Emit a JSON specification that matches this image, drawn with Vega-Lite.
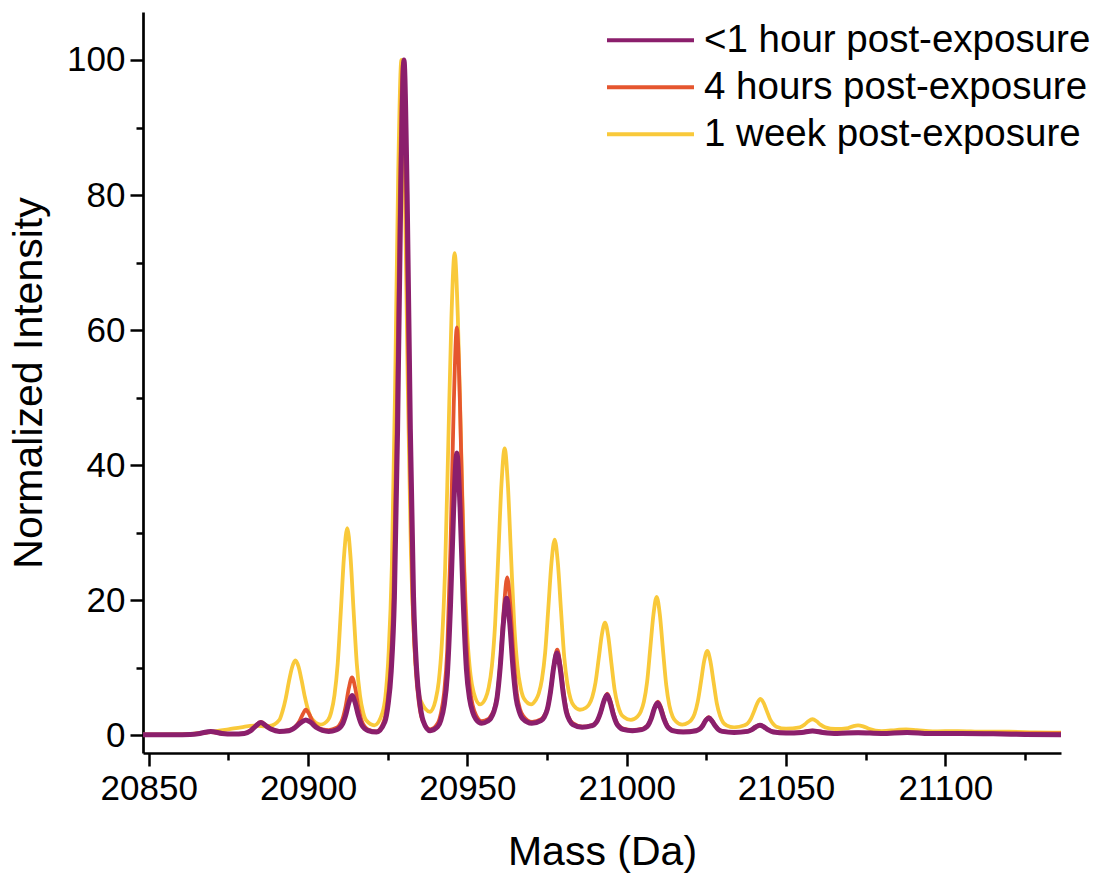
{
"$schema": "https://vega.github.io/schema/vega-lite/v6.json",
"width": 918,
"height": 741,
"autosize": {"type": "none"},
"padding": {"left": 143, "top": 12, "right": 33, "bottom": 124},
"background": "white",
"config": {
"view": {"stroke": null},
"font": "Liberation Sans",
"axis": {"domainColor": "black", "domainWidth": 2.7, "tickColor": "black", "tickWidth": 2.5, "tickSize": 13, "labelColor": "black", "labelFontSize": 35, "labelFont": "Liberation Sans", "titleFont": "Liberation Sans", "titleFontSize": 41, "titleFontWeight": "normal", "titleColor": "black", "grid": false, "labelPadding": 5},
"legend": {"symbolType": "stroke", "symbolSize": 7569, "symbolStrokeWidth": 4, "labelFontSize": 38.5, "labelFont": "Liberation Sans", "labelColor": "black", "labelOffset": 8, "rowPadding": 0, "clipHeight": 46.5, "labelLimit": 0, "padding": 0}
},
"datasets": {
"week": [
{"mass":20848.2,"intensity":0.1},{"mass":20858,"intensity":0.15},{"mass":20862,"intensity":0.2},{"mass":20866,"intensity":0.35},{"mass":20870,"intensity":0.55},{"mass":20875,"intensity":0.9},{"mass":20879,"intensity":1.2},{"mass":20883,"intensity":1.45},{"mass":20886,"intensity":1.35},{"mass":20888,"intensity":1.4},
{"mass":20891,"intensity":2.3},{"mass":20892,"intensity":3.6},{"mass":20893,"intensity":5.5},{"mass":20894,"intensity":8.0},{"mass":20895,"intensity":10.1},{"mass":20896,"intensity":11.1},{"mass":20897,"intensity":10.2},{"mass":20898,"intensity":8.1},{"mass":20899,"intensity":5.7},{"mass":20900,"intensity":3.8},{"mass":20901,"intensity":2.6},{"mass":20904,"intensity":1.6},
{"mass":20906.3,"intensity":2.3},{"mass":20907.3,"intensity":3.5},{"mass":20908.3,"intensity":6.0},{"mass":20909.3,"intensity":10.6},{"mass":20910.3,"intensity":18.5},{"mass":20911.3,"intensity":26.6},{"mass":20912.3,"intensity":30.7},{"mass":20913.3,"intensity":26.6},{"mass":20914.3,"intensity":18.4},{"mass":20915.3,"intensity":10.6},{"mass":20916.3,"intensity":5.9},{"mass":20917.3,"intensity":3.4},{"mass":20918.3,"intensity":2.2},{"mass":20920.8,"intensity":1.5},
{"mass":20923.3,"intensity":3.3},{"mass":20924.3,"intensity":5.9},{"mass":20925.3,"intensity":12.3},{"mass":20926.3,"intensity":25.1},{"mass":20927.3,"intensity":50.8},{"mass":20928.3,"intensity":83.3},{"mass":20929.3,"intensity":100},{"mass":20930.3,"intensity":83.6},{"mass":20931.3,"intensity":51.8},{"mass":20932.3,"intensity":26.7},{"mass":20933.3,"intensity":14.1},{"mass":20934.3,"intensity":7.8},{"mass":20935.3,"intensity":5.2},{"mass":20938.3,"intensity":3.5},
{"mass":20940,"intensity":5.2},{"mass":20941,"intensity":7.9},{"mass":20942,"intensity":13.7},{"mass":20943,"intensity":24.5},{"mass":20944,"intensity":42.9},{"mass":20945,"intensity":61.9},{"mass":20946,"intensity":71.4},{"mass":20947,"intensity":62.0},{"mass":20948,"intensity":43.3},{"mass":20949,"intensity":25.3},{"mass":20950,"intensity":14.6},{"mass":20951,"intensity":8.9},{"mass":20952,"intensity":6.3},{"mass":20954,"intensity":4.6},
{"mass":20955.7,"intensity":5.5},{"mass":20956.7,"intensity":7.1},{"mass":20957.7,"intensity":10.3},{"mass":20958.7,"intensity":16.4},{"mass":20959.7,"intensity":26.6},{"mass":20960.7,"intensity":37.2},{"mass":20961.7,"intensity":42.5},{"mass":20962.7,"intensity":37.2},{"mass":20963.7,"intensity":26.6},{"mass":20964.7,"intensity":16.4},{"mass":20965.7,"intensity":10.3},{"mass":20966.7,"intensity":7.1},{"mass":20967.7,"intensity":5.5},{"mass":20970,"intensity":4.6},
{"mass":20971.4,"intensity":5.2},{"mass":20972.4,"intensity":6.2},{"mass":20973.4,"intensity":8.3},{"mass":20974.4,"intensity":12.2},{"mass":20975.4,"intensity":18.8},{"mass":20976.4,"intensity":25.6},{"mass":20977.4,"intensity":29.0},{"mass":20978.4,"intensity":25.5},{"mass":20979.4,"intensity":18.4},{"mass":20980.4,"intensity":11.6},{"mass":20981.4,"intensity":7.6},{"mass":20982.4,"intensity":5.4},{"mass":20983.4,"intensity":4.4},{"mass":20985.3,"intensity":3.8},
{"mass":20987.2,"intensity":4.1},{"mass":20988.2,"intensity":4.6},{"mass":20989.2,"intensity":5.7},{"mass":20990.2,"intensity":7.8},{"mass":20991.2,"intensity":11.3},{"mass":20992.2,"intensity":14.9},{"mass":20993.2,"intensity":16.7},{"mass":20994.2,"intensity":14.7},{"mass":20995.2,"intensity":10.7},{"mass":20996.2,"intensity":6.8},{"mass":20997.2,"intensity":4.5},{"mass":20998.2,"intensity":3.2},{"mass":20999.2,"intensity":2.7},{"mass":21001.3,"intensity":2.3},
{"mass":21003.4,"intensity":2.8},{"mass":21004.4,"intensity":3.5},{"mass":21005.4,"intensity":5.0},{"mass":21006.4,"intensity":7.9},{"mass":21007.4,"intensity":12.9},{"mass":21008.4,"intensity":17.9},{"mass":21009.4,"intensity":20.5},{"mass":21010.4,"intensity":17.9},{"mass":21011.4,"intensity":12.6},{"mass":21012.4,"intensity":7.5},{"mass":21013.4,"intensity":4.4},{"mass":21014.4,"intensity":2.8},{"mass":21015.4,"intensity":2.1},{"mass":21017.4,"intensity":1.6},
{"mass":21019.3,"intensity":1.9},{"mass":21020.3,"intensity":2.3},{"mass":21021.3,"intensity":3.2},{"mass":21022.3,"intensity":5.0},{"mass":21023.3,"intensity":7.9},{"mass":21024.3,"intensity":11.0},{"mass":21025.3,"intensity":12.5},{"mass":21026.3,"intensity":10.9},{"mass":21027.3,"intensity":7.8},{"mass":21028.3,"intensity":4.7},{"mass":21029.3,"intensity":2.9},{"mass":21030.3,"intensity":1.9},{"mass":21031.3,"intensity":1.5},{"mass":21033.7,"intensity":1.2},
{"mass":21037,"intensity":1.5},{"mass":21038,"intensity":1.8},{"mass":21039,"intensity":2.5},{"mass":21040,"intensity":3.6},{"mass":21041,"intensity":4.8},{"mass":21042,"intensity":5.4},{"mass":21043,"intensity":4.8},{"mass":21044,"intensity":3.6},{"mass":21045,"intensity":2.4},{"mass":21046,"intensity":1.7},{"mass":21047,"intensity":1.3},{"mass":21050,"intensity":1.0},
{"mass":21054.3,"intensity":1.2},{"mass":21055.8,"intensity":1.6},{"mass":21057,"intensity":2.1},{"mass":21058.3,"intensity":2.4},{"mass":21059.6,"intensity":2.1},{"mass":21060.8,"intensity":1.6},{"mass":21062.3,"intensity":1.2},{"mass":21065.5,"intensity":0.95},
{"mass":21069.5,"intensity":1.1},{"mass":21071,"intensity":1.35},{"mass":21072.6,"intensity":1.5},{"mass":21074.2,"intensity":1.35},{"mass":21076,"intensity":1.0},{"mass":21080,"intensity":0.65},{"mass":21084.5,"intensity":0.8},{"mass":21087.7,"intensity":0.9},{"mass":21091,"intensity":0.8},{"mass":21096,"intensity":0.6},{"mass":21104,"intensity":0.65},{"mass":21112,"intensity":0.55},{"mass":21120,"intensity":0.55},{"mass":21128,"intensity":0.45},{"mass":21136.3,"intensity":0.4}
],
"h4": [
{"mass":20848.2,"intensity":0.1},{"mass":20858,"intensity":0.1},{"mass":20863,"intensity":0.15},{"mass":20866,"intensity":0.28},{"mass":20869.5,"intensity":0.5},{"mass":20873,"intensity":0.28},{"mass":20876.5,"intensity":0.2},
{"mass":20880,"intensity":0.3},{"mass":20882,"intensity":0.75},{"mass":20883.5,"intensity":1.45},{"mass":20885.2,"intensity":2.0},{"mass":20887,"intensity":1.45},{"mass":20888.5,"intensity":0.95},{"mass":20891,"intensity":0.65},
{"mass":20894,"intensity":0.8},{"mass":20895.8,"intensity":1.2},{"mass":20897.3,"intensity":2.1},{"mass":20898.3,"intensity":3.1},{"mass":20899.3,"intensity":3.8},{"mass":20900.3,"intensity":3.2},{"mass":20901.3,"intensity":2.2},{"mass":20902.8,"intensity":1.3},{"mass":20904.5,"intensity":0.9},{"mass":20906.5,"intensity":0.8},
{"mass":20908.8,"intensity":1.1},{"mass":20909.8,"intensity":1.5},{"mass":20910.8,"intensity":2.4},{"mass":20911.8,"intensity":4.3},{"mass":20912.8,"intensity":7.0},{"mass":20913.8,"intensity":8.6},{"mass":20914.8,"intensity":7.0},{"mass":20915.8,"intensity":4.2},{"mass":20916.8,"intensity":2.2},{"mass":20917.8,"intensity":1.3},{"mass":20918.8,"intensity":0.9},{"mass":20921.5,"intensity":0.6},
{"mass":20923.8,"intensity":2.1},{"mass":20924.8,"intensity":4.6},{"mass":20925.8,"intensity":9.5},{"mass":20926.8,"intensity":20.4},{"mass":20927.8,"intensity":45.1},{"mass":20928.8,"intensity":79.7},{"mass":20929.8,"intensity":99.5},{"mass":20930.8,"intensity":79.8},{"mass":20931.8,"intensity":45.3},{"mass":20932.8,"intensity":20.6},{"mass":20933.8,"intensity":9.8},{"mass":20934.8,"intensity":4.8},{"mass":20935.8,"intensity":2.4},{"mass":20938.3,"intensity":0.9},
{"mass":20940.7,"intensity":1.8},{"mass":20941.7,"intensity":3.3},{"mass":20942.7,"intensity":6.3},{"mass":20943.7,"intensity":12.8},{"mass":20944.7,"intensity":27.7},{"mass":20945.7,"intensity":48.5},{"mass":20946.7,"intensity":60.4},{"mass":20947.7,"intensity":48.7},{"mass":20948.7,"intensity":28.3},{"mass":20949.7,"intensity":13.8},{"mass":20950.7,"intensity":7.3},{"mass":20951.7,"intensity":4.4},{"mass":20952.7,"intensity":3.0},{"mass":20954.5,"intensity":2.1},
{"mass":20956.5,"intensity":2.4},{"mass":20957.5,"intensity":3.0},{"mass":20958.5,"intensity":4.0},{"mass":20959.5,"intensity":6.4},{"mass":20960.5,"intensity":11.7},{"mass":20961.5,"intensity":19.1},{"mass":20962.5,"intensity":23.4},{"mass":20963.5,"intensity":19.1},{"mass":20964.5,"intensity":11.6},{"mass":20965.5,"intensity":6.3},{"mass":20966.5,"intensity":3.9},{"mass":20967.5,"intensity":2.9},{"mass":20970.3,"intensity":2.0},
{"mass":20973.2,"intensity":2.4},{"mass":20974.2,"intensity":3.0},{"mass":20975.2,"intensity":4.1},{"mass":20976.2,"intensity":6.8},{"mass":20977.2,"intensity":10.6},{"mass":20978.2,"intensity":12.7},{"mass":20979.2,"intensity":10.4},{"mass":20980.2,"intensity":6.4},{"mass":20981.2,"intensity":3.6},{"mass":20982.2,"intensity":2.3},{"mass":20983.2,"intensity":1.8},{"mass":20986.1,"intensity":1.3},
{"mass":20988.9,"intensity":1.5},{"mass":20989.9,"intensity":1.7},{"mass":20990.9,"intensity":2.3},{"mass":20991.9,"intensity":3.5},{"mass":20992.9,"intensity":5.2},{"mass":20993.9,"intensity":6.2},{"mass":20994.9,"intensity":5.1},{"mass":20995.9,"intensity":3.2},{"mass":20996.9,"intensity":1.9},{"mass":20997.9,"intensity":1.3},{"mass":20998.9,"intensity":1.0},{"mass":21001.8,"intensity":0.8},
{"mass":21004.8,"intensity":0.97},{"mass":21005.8,"intensity":1.18},{"mass":21006.8,"intensity":1.64},{"mass":21007.8,"intensity":2.7},{"mass":21008.8,"intensity":4.2},{"mass":21009.8,"intensity":5.0},{"mass":21010.8,"intensity":4.1},{"mass":21011.8,"intensity":2.55},{"mass":21012.8,"intensity":1.44},{"mass":21013.8,"intensity":0.95},{"mass":21014.8,"intensity":0.73},{"mass":21017.7,"intensity":0.55},
{"mass":21021.8,"intensity":0.75},{"mass":21022.8,"intensity":0.95},{"mass":21023.8,"intensity":1.5},{"mass":21024.8,"intensity":2.3},{"mass":21025.8,"intensity":2.7},{"mass":21026.8,"intensity":2.2},{"mass":21027.8,"intensity":1.5},{"mass":21028.8,"intensity":0.9},{"mass":21030,"intensity":0.65},{"mass":21033.7,"intensity":0.5},
{"mass":21038,"intensity":0.65},{"mass":21039.3,"intensity":0.9},{"mass":21040.5,"intensity":1.3},{"mass":21041.8,"intensity":1.55},{"mass":21043.1,"intensity":1.3},{"mass":21044.3,"intensity":0.9},{"mass":21046,"intensity":0.55},{"mass":21050,"intensity":0.4},
{"mass":21055,"intensity":0.5},{"mass":21058.3,"intensity":0.7},{"mass":21061.5,"intensity":0.5},{"mass":21066,"intensity":0.35},{"mass":21072.6,"intensity":0.45},{"mass":21080,"intensity":0.35},{"mass":21088,"intensity":0.5},{"mass":21095,"intensity":0.35},{"mass":21105,"intensity":0.35},{"mass":21115,"intensity":0.3},{"mass":21125,"intensity":0.3},{"mass":21136.3,"intensity":0.3}
],
"h1": [
{"mass":20848.2,"intensity":0.1},{"mass":20858,"intensity":0.1},{"mass":20863,"intensity":0.15},{"mass":20866,"intensity":0.3},{"mass":20869.5,"intensity":0.6},{"mass":20873,"intensity":0.3},{"mass":20876.5,"intensity":0.2},
{"mass":20880,"intensity":0.3},{"mass":20882,"intensity":0.7},{"mass":20883.5,"intensity":1.35},{"mass":20885.2,"intensity":1.9},{"mass":20887,"intensity":1.35},{"mass":20888.5,"intensity":0.9},{"mass":20891,"intensity":0.6},
{"mass":20894,"intensity":0.7},{"mass":20896,"intensity":1.2},{"mass":20897.7,"intensity":1.9},{"mass":20899.3,"intensity":2.3},{"mass":20900.9,"intensity":1.9},{"mass":20902.5,"intensity":1.2},{"mass":20904.5,"intensity":0.75},{"mass":20906.5,"intensity":0.6},
{"mass":20908.8,"intensity":0.81},{"mass":20909.8,"intensity":1.08},{"mass":20910.8,"intensity":1.66},{"mass":20911.8,"intensity":2.99},{"mass":20912.8,"intensity":4.84},{"mass":20913.8,"intensity":5.9},{"mass":20914.8,"intensity":4.82},{"mass":20915.8,"intensity":2.93},{"mass":20916.8,"intensity":1.58},{"mass":20917.8,"intensity":0.99},{"mass":20918.8,"intensity":0.72},{"mass":20921.5,"intensity":0.5},
{"mass":20924.1,"intensity":2.0},{"mass":20925.1,"intensity":4.5},{"mass":20926.1,"intensity":9.5},{"mass":20927.1,"intensity":20.4},{"mass":20928.1,"intensity":45.3},{"mass":20929.1,"intensity":80.1},{"mass":20930.1,"intensity":100},{"mass":20931.1,"intensity":80.1},{"mass":20932.1,"intensity":45.4},{"mass":20933.1,"intensity":20.6},{"mass":20934.1,"intensity":9.6},{"mass":20935.1,"intensity":4.7},{"mass":20936.1,"intensity":2.2},{"mass":20938.3,"intensity":0.7},
{"mass":20940.7,"intensity":1.3},{"mass":20941.7,"intensity":2.3},{"mass":20942.7,"intensity":4.4},{"mass":20943.7,"intensity":8.9},{"mass":20944.7,"intensity":19.2},{"mass":20945.7,"intensity":33.6},{"mass":20946.7,"intensity":41.8},{"mass":20947.7,"intensity":33.8},{"mass":20948.7,"intensity":19.8},{"mass":20949.7,"intensity":9.8},{"mass":20950.7,"intensity":5.4},{"mass":20951.7,"intensity":3.4},{"mass":20952.7,"intensity":2.4},{"mass":20954.5,"intensity":1.8},
{"mass":20956.3,"intensity":2.1},{"mass":20957.3,"intensity":2.5},{"mass":20958.3,"intensity":3.5},{"mass":20959.3,"intensity":5.5},{"mass":20960.3,"intensity":10.1},{"mass":20961.3,"intensity":16.6},{"mass":20962.3,"intensity":20.3},{"mass":20963.3,"intensity":16.6},{"mass":20964.3,"intensity":10.1},{"mass":20965.3,"intensity":5.5},{"mass":20966.3,"intensity":3.5},{"mass":20967.3,"intensity":2.5},{"mass":20970.2,"intensity":1.8},
{"mass":20973.1,"intensity":2.2},{"mass":20974.1,"intensity":2.7},{"mass":20975.1,"intensity":3.9},{"mass":20976.1,"intensity":6.5},{"mass":20977.1,"intensity":10.1},{"mass":20978.1,"intensity":12.2},{"mass":20979.1,"intensity":10.0},{"mass":20980.1,"intensity":6.2},{"mass":20981.1,"intensity":3.4},{"mass":20982.1,"intensity":2.2},{"mass":20983.1,"intensity":1.6},{"mass":20986,"intensity":1.2},
{"mass":20988.8,"intensity":1.4},{"mass":20989.8,"intensity":1.6},{"mass":20990.8,"intensity":2.2},{"mass":20991.8,"intensity":3.4},{"mass":20992.8,"intensity":5.0},{"mass":20993.8,"intensity":6.0},{"mass":20994.8,"intensity":4.9},{"mass":20995.8,"intensity":3.1},{"mass":20996.8,"intensity":1.8},{"mass":20997.8,"intensity":1.2},{"mass":20998.8,"intensity":0.9},{"mass":21001.8,"intensity":0.7},
{"mass":21004.7,"intensity":0.86},{"mass":21005.7,"intensity":1.07},{"mass":21006.7,"intensity":1.5},{"mass":21007.7,"intensity":2.5},{"mass":21008.7,"intensity":4.0},{"mass":21009.7,"intensity":4.8},{"mass":21010.7,"intensity":3.9},{"mass":21011.7,"intensity":2.4},{"mass":21012.7,"intensity":1.36},{"mass":21013.7,"intensity":0.89},{"mass":21014.7,"intensity":0.67},{"mass":21017.7,"intensity":0.5},
{"mass":21021.8,"intensity":0.7},{"mass":21022.8,"intensity":0.9},{"mass":21023.8,"intensity":1.4},{"mass":21024.8,"intensity":2.2},{"mass":21025.8,"intensity":2.6},{"mass":21026.8,"intensity":2.1},{"mass":21027.8,"intensity":1.4},{"mass":21028.8,"intensity":0.85},{"mass":21030,"intensity":0.6},{"mass":21033.7,"intensity":0.45},
{"mass":21038,"intensity":0.6},{"mass":21039.3,"intensity":0.85},{"mass":21040.5,"intensity":1.25},{"mass":21041.8,"intensity":1.5},{"mass":21043.1,"intensity":1.25},{"mass":21044.3,"intensity":0.85},{"mass":21046,"intensity":0.5},{"mass":21050,"intensity":0.35},
{"mass":21055,"intensity":0.45},{"mass":21058.3,"intensity":0.65},{"mass":21061.5,"intensity":0.45},{"mass":21066,"intensity":0.3},{"mass":21072.6,"intensity":0.4},{"mass":21080,"intensity":0.3},{"mass":21088,"intensity":0.45},{"mass":21095,"intensity":0.3},{"mass":21105,"intensity":0.3},{"mass":21115,"intensity":0.25},{"mass":21125,"intensity":0.15},{"mass":21136.3,"intensity":0.1}
]
},
"layer": [
{
"data": {"name": "week"},
"mark": {"type": "line", "interpolate": "monotone", "strokeWidth": 3.8, "clip": true},
"encoding": {
"x": {"field": "mass", "type": "quantitative", "scale": {"domain": [20848.2, 21136.3], "nice": false, "zero": false}, "axis": {"values": [20850, 20900, 20950, 21000, 21050, 21100], "format": "d", "title": "Mass (Da)", "titlePadding": 26, "labelFlush": false, "labelOverlap": false}},
"y": {"field": "intensity", "type": "quantitative", "scale": {"domain": [-2.6, 107.1], "nice": false, "zero": false}, "axis": {"values": [0, 20, 40, 60, 80, 100], "title": "Normalized Intensity", "titlePadding": 16, "labelOverlap": false}},
"color": {"datum": "1 week post-exposure", "type": "nominal", "scale": {"domain": ["<1 hour post-exposure", "4 hours post-exposure", "1 week post-exposure"], "range": ["#8B1F6C", "#E5562F", "#F9C93A"]}, "legend": {"title": null, "orient": "none", "legendX": 462, "legendY": 5}}
}
},
{
"data": {"name": "h4"},
"mark": {"type": "line", "interpolate": "monotone", "strokeWidth": 3.8, "clip": true},
"encoding": {
"x": {"field": "mass", "type": "quantitative", "scale": {"domain": [20848.2, 21136.3], "nice": false, "zero": false}, "axis": {"orient": "bottom", "values": [20875, 20925, 20975, 21025, 21075, 21125], "labels": false, "domain": false, "title": null, "tickSize": 7}},
"y": {"field": "intensity", "type": "quantitative", "scale": {"domain": [-2.6, 107.1], "nice": false, "zero": false}, "axis": {"orient": "left", "values": [10, 30, 50, 70, 90], "labels": false, "domain": false, "title": null, "tickSize": 7}},
"color": {"datum": "4 hours post-exposure", "type": "nominal"}
}
},
{
"data": {"name": "h1"},
"mark": {"type": "line", "interpolate": "monotone", "strokeWidth": 5, "clip": true},
"encoding": {
"x": {"field": "mass", "type": "quantitative", "scale": {"domain": [20848.2, 21136.3], "nice": false, "zero": false}, "axis": null},
"y": {"field": "intensity", "type": "quantitative", "scale": {"domain": [-2.6, 107.1], "nice": false, "zero": false}, "axis": null},
"color": {"datum": "<1 hour post-exposure", "type": "nominal"}
}
}
],
"resolve": {"axis": {"x": "independent", "y": "independent"}}
}
